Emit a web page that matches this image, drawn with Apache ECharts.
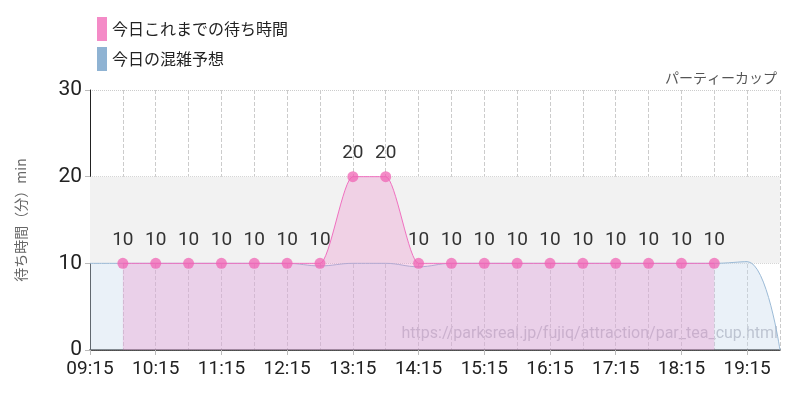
<!DOCTYPE html>
<html>
<head>
<meta charset="utf-8" />
<title></title>
<style>body{margin:0}</style>
</head>
<body>
<div id="main" style="width:800px;height:400px"></div>
<script src="https://cdn.jsdelivr.net/npm/echarts@6/dist/echarts.min.js"></script>
<script>
var times = ['09:15','09:45','10:15','10:45','11:15','11:45','12:15','12:45','13:15','13:45','14:15','14:45',
             '15:15','15:45','16:15','16:45','17:15','17:45','18:15','18:45','19:15','19:45'];
var waitToday = [null,10,10,10,10,10,10,10,20,20,10,10,10,10,10,10,10,10,10,10,null,null];
var forecast = [10,10,10,10,10,10,10,9.7,10,10,9.6,10,10,10,10,10,10,10,10,10,10.2,0];
var numFont = 'Roboto, sans-serif';

var myChart = echarts.init(document.getElementById('main'));
myChart.setOption({
    animation: false,
    backgroundColor: '#fff',
    title: {
        text: 'パーティーカップ', right: 18, top: 66,
        textStyle: { fontSize: 14, fontWeight: 'normal', color: '#555', fontFamily: 'Noto Sans CJK JP' }
    },
    legend: {
        left: 92, top: 12, orient: 'vertical', itemGap: 6, itemWidth: 10, itemHeight: 24, icon: 'rect',
        textStyle: { fontSize: 16, color: '#222', fontFamily: 'Noto Sans CJK JP' },
        data: ['今日これまでの待ち時間', '今日の混雑予想']
    },
    graphic: [{
        type: 'text', right: 22, top: 326,
        style: { text: 'https://parksreal.jp/fujiq/attraction/par_tea_cup.html', fill: 'rgba(110,110,130,0.5)', font: '16px Roboto' }
    }],
    grid: { left: 90, right: 20, top: 90, bottom: 50 },
    xAxis: {
        type: 'category', data: times, boundaryGap: false,
        axisLine: { lineStyle: { color: '#222', width: 1.5 } },
        axisTick: { interval: 1, lineStyle: { color: '#bbb' } },
        axisLabel: { interval: 1, color: '#222', fontSize: 19, fontFamily: numFont, margin: 10 },
        splitLine: { show: true, interval: 0, lineStyle: { color: '#ccc', type: 'dashed' } }
    },
    yAxis: {
        type: 'value', min: 0, max: 30, interval: 10,
        name: '待ち時間（分）min', nameLocation: 'middle', nameGap: 62,
        nameTextStyle: { color: '#666', fontSize: 14, fontFamily: 'Noto Sans CJK JP' },
        axisLine: { show: true, lineStyle: { color: '#222' } },
        axisTick: { show: true, lineStyle: { color: '#bbb' } },
        axisLabel: { color: '#222', fontSize: 21, fontFamily: numFont },
        splitLine: { lineStyle: { color: '#ccc', type: 'dotted' } }
    },
    series: [{
        name: '今日の混雑予想', type: 'line', data: forecast, smooth: 0.4, symbol: 'none', z: 1,
        color: '#8fb3d3',
        lineStyle: { color: '#9bbad6', width: 1 },
        areaStyle: { color: 'rgba(200,218,236,0.55)' },
        markArea: {
            silent: true, itemStyle: { color: '#f2f2f2' },
            data: [[{ yAxis: 10 }, { yAxis: 20 }]]
        }
    }, {
        name: '今日これまでの待ち時間', type: 'line', data: waitToday, smooth: 0.2, z: 2,
        color: '#ff88cc',
        symbol: 'circle', symbolSize: 11,
        itemStyle: { color: 'rgba(240,100,180,0.75)' },
        lineStyle: { color: '#f070c0', width: 1 },
        areaStyle: { color: 'rgba(236,130,196,0.42)' },
        label: { show: true, position: 'top', distance: 8, color: '#333', fontSize: 19, fontFamily: numFont }
    }]
});
</script>
</body>
</html>
